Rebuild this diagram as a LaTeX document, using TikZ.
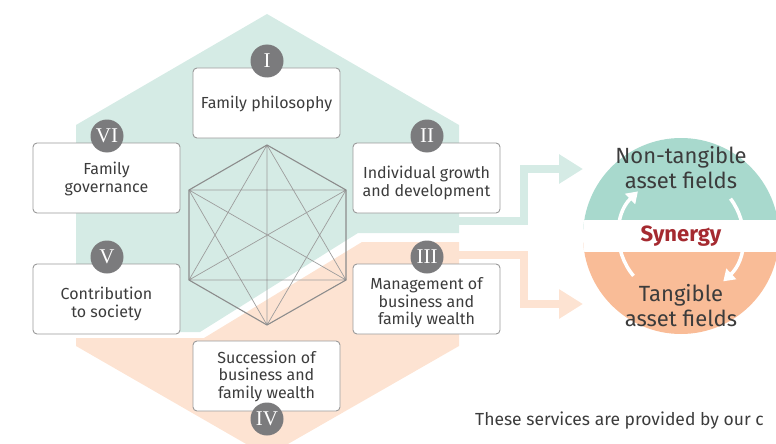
\documentclass[tikz,border=0pt]{standalone}
\usepackage{fontspec}
\setmainfont{Fira Sans}
\newfontfamily\numfont{Liberation Serif}
\usetikzlibrary{arrows.meta}
\definecolor{hexgreen}{HTML}{D5EBE5}
\definecolor{hexpeach}{HTML}{FDE3D2}
\definecolor{cgreen}{HTML}{A8D9CD}
\definecolor{cpeach}{HTML}{F9BC97}
\definecolor{numgray}{HTML}{7B7B7D}
\definecolor{boxline}{HTML}{9A9A9A}
\definecolor{hexline}{HTML}{8C8C8C}
\definecolor{txt}{HTML}{3C3C3C}
\definecolor{syn}{HTML}{A52A30}
\tikzset{
  stepbox/.style={draw=boxline, line width=0.9pt, fill=white, rounded corners=4pt,
    minimum width=147pt, minimum height=70pt, inner sep=0pt},
  boxtext/.style={align=center, inner sep=0pt, text=txt, font=\fontsize{16}{17.5}\selectfont},
  numc/.style={circle, fill=numgray, minimum size=33pt, inner sep=0pt, text=white,
    font=\numfont\fontsize{21}{21}\selectfont},
  hexedge/.style={draw=hexline, line width=1.1pt},
  hexdiag/.style={draw=hexline!85, line width=0.7pt},
  flowg/.style={draw=hexgreen, line width=8pt, -{Triangle[length=24pt,width=28pt]}},
  flowp/.style={draw=hexpeach, line width=8pt, -{Triangle[length=24pt,width=28pt]}},
  cyc/.style={draw=white, line width=3.5pt, -{Triangle[length=11pt,width=14pt]}},
  bigtxt/.style={text=txt, align=center, font=\fontsize{22}{25}\selectfont}
}
\begin{document}
\begin{tikzpicture}[x=1pt,y=-1pt]
\useasboundingbox (0,0) rectangle (776,444);
\clip (0,0) rectangle (776,444);
% background hexagon halves
\fill[hexgreen] (267,14) -- (459,125) -- (459,233) -- (358,233) -- (200,332) -- (76,332) -- (76,125) -- cycle;
\fill[hexpeach] (459,242) -- (459,346) -- (267,456) -- (76,346) -- (76,338) -- (204,338) -- (362,242) -- cycle;
% flow arrows
\coordinate (gs) at (455,221);
\coordinate (ge) at (583,169);
\coordinate (ps) at (455,255);
\coordinate (pe) at (583,304);
\draw[flowg] (gs) -- (524,221) -- (524,169) -- (ge);
\draw[flowp] (ps) -- (524,255) -- (524,304) -- (pe);
% synergy circle
\begin{scope}
\clip (681,236) circle (98);
\fill[cgreen] (570,120) rectangle (790,236);
\fill[cpeach] (570,236) rectangle (790,340);
\fill[white] (570,220) rectangle (790,252);
\end{scope}
\node[circle, minimum size=196pt, inner sep=0pt] (syn) at (681,236) {};
\draw[cyc] (681,236) ++(140:62) arc[start angle=140, end angle=226, radius=62];
\draw[cyc] (681,236) ++(-37:62) arc[start angle=-37, end angle=47, radius=62];
\node[bigtxt] (nt) at (681,168) {Non-tangible\\asset fields};
\node[bigtxt] (tg) at (681,306) {Tangible\\asset fields};
\node[text=syn, font=\bfseries\fontsize{22}{22}\selectfont] (sy) at (681,236) {Synergy};
% inner hexagon (complete graph)
\coordinate (h1) at (267,145);
\coordinate (h2) at (346,190);
\coordinate (h3) at (346,280);
\coordinate (h4) at (267,325);
\coordinate (h5) at (189,280);
\coordinate (h6) at (189,190);
\draw[hexdiag] (h1) -- (h3) (h1) -- (h4) (h1) -- (h5)
  (h2) -- (h4) (h2) -- (h5) (h2) -- (h6)
  (h3) -- (h5) (h3) -- (h6) (h4) -- (h6);
\draw[hexedge] (h1) -- (h2) -- (h3) -- (h4) -- (h5) -- (h6) -- cycle;
% boxes
\node[stepbox] (b1) at (266.5,103) {};
\node[stepbox] (b6) at (106.5,178) {};
\node[stepbox] (b2) at (426.5,178) {};
\node[stepbox] (b5) at (106.5,299) {};
\node[stepbox] (b3) at (426.5,299) {};
\node[stepbox] (b4) at (266.5,376) {};
\node[boxtext] (t1) at ([yshift=-1pt]b1) {Family philosophy};
\node[boxtext] (t6) at ([yshift=-1pt]b6) {Family\\governance};
\node[boxtext] (t2) at ([yshift=-5pt]b2) {Individual growth\\and development};
\node[boxtext] (t5) at ([yshift=-5pt]b5) {Contribution\\to society};
\node[boxtext] (t3) at ([yshift=-4pt]b3) {Management of\\business and\\family wealth};
\node[boxtext] (t4) at (b4) {Succession of\\business and\\family wealth};
% numbers
\node[numc] (n1) at (267,61) {I};
\node[numc] (n6) at (107,136) {VI};
\node[numc] (n2) at (427,136) {II};
\node[numc] (n5) at (107,257) {V};
\node[numc] (n3) at (427,257) {III};
\node[numc] (n4) at (267,419) {IV};
% footnote text
\node[anchor=base west, text=txt, font=\fontsize{17.5}{20}\selectfont, inner sep=0pt] (foot) at (475,425) {These services are provided by our c};
\end{tikzpicture}
\end{document}
